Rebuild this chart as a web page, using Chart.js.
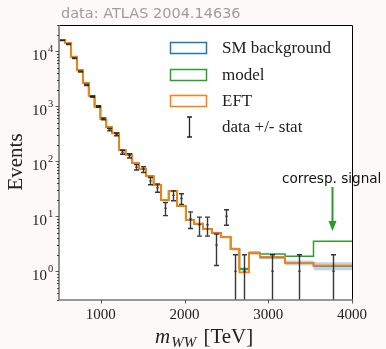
<!DOCTYPE html>
<html>
<head>
<meta charset="utf-8">
<script src="https://cdn.jsdelivr.net/npm/chart.js@4.4.1/dist/chart.umd.min.js"></script>
<style>
  html, body { margin: 0; padding: 0; background: #fdf9f8; }
  #wrap { width: 386px; height: 349px; }
</style>
</head>
<body>
<div id="wrap"><canvas id="chart" width="386" height="349"></canvas></div>
<script>
// histogram bins (m_WW) and contents
const binEdges = [500, 575, 645, 715, 785, 855, 925, 995, 1065, 1135, 1215, 1295, 1375, 1455, 1540,
  1630, 1720, 1810, 1910, 2015, 2115, 2220, 2325, 2435, 2550, 2655, 2770, 2900, 3200, 3540, 4000];
const smValues = [15950, 14250, 7960, 4500, 2640, 1535, 990, 594, 414, 322, 159, 132, 93.5, 72, 53.8,
  37, 19.8, 28.8, 15.4, 8.6, 7.3, 5.84, 4.95, 4.19, 2.54, 1.1, 2.15, 1.78, 1.42, 1.25];
const modelValues = [15950, 14250, 7960, 4500, 2640, 1535, 990, 594, 414, 322, 159, 132, 93.5, 72, 53.8,
  37, 19.8, 28.8, 15.4, 8.6, 7.3, 5.84, 4.95, 4.19, 2.54, 1.1, 2.2, 2.06, 1.87, 3.5];
const eftValues = [15950, 14250, 7960, 4500, 2640, 1535, 990, 594, 414, 322, 159, 132, 93.5, 72, 53.8,
  37, 19.8, 28.8, 15.4, 8.6, 7.3, 5.84, 4.95, 4.19, 2.54, 0.95, 2.15, 1.82, 1.42, 1.27];
const smRelErr = [0.03, 0.03, 0.03, 0.03, 0.03, 0.03, 0.03, 0.03, 0.03, 0.03, 0.03, 0.03, 0.03, 0.03, 0.03,
  0.03, 0.03, 0.03, 0.03, 0.03, 0.04, 0.04, 0.05, 0.05, 0.06, 0.07, 0.07, 0.07, 0.1, 0.17];
const dataCounts = [15800, 13400, 7470, 4260, 2430, 1500, 990, 589, 376, 309, 146, 126, 78, 71, 44,
  33, 14, 24, 21, 9, 7, 7, 3, 10, 1, 1, 0, 1, 1, 1];
const xTicks = [1000, 2000, 3000, 4000];
const yDecades = [0, 1, 2, 3, 4];

const serif = '"Liberation Serif", "DejaVu Serif", serif';
const sans = '"DejaVu Sans", sans-serif';

function steps(vals, f) {
  const pts = [];
  vals.forEach((v, i) => {
    const y = v * (f ? f(i) : 1);
    pts.push({ x: binEdges[i], y: y }, { x: binEdges[i + 1], y: y });
  });
  return pts;
}

function line(label, pts, color, width, order) {
  return { label, data: pts, borderColor: color, borderWidth: width, pointRadius: 0,
    tension: 0, fill: false, order };
}
function band(pts, fill, order) {
  return { data: pts, borderWidth: 0, pointRadius: 0, tension: 0, fill, backgroundColor: 'rgba(0,0,0,0)', order };
}

const bandSmLo = band(steps(smValues, i => 1 - smRelErr[i]), false, 10);
const bandSmHi = band(steps(smValues, i => 1 + smRelErr[i]), '-1', 10);
bandSmHi.backgroundColor = 'rgba(31,119,180,0.3)';
const bandEftLo = band(steps(eftValues, () => 0.97), false, 9);
const bandEftHi = band(steps(eftValues, () => 1.03), '-1', 9);
bandEftHi.backgroundColor = 'rgba(255,127,14,0.35)';

// error bars, spines, ticks, labels, legend
const decor = {
  id: 'decor',
  beforeDraw(chart) {
    const { ctx, chartArea: a } = chart;
    ctx.save();
    ctx.fillStyle = '#fdf9f8';
    ctx.fillRect(0, 0, chart.width, chart.height);
    ctx.fillStyle = '#ffffff';
    ctx.fillRect(a.left, a.top, a.right - a.left, a.bottom - a.top);
    ctx.restore();
  },
  afterDatasetsDraw(chart) {
    const { ctx, chartArea: a, scales: { x, y } } = chart;
    ctx.save();
    ctx.beginPath();
    ctx.rect(a.left, a.top, a.right - a.left, a.bottom - a.top);
    ctx.clip();
    ctx.strokeStyle = 'rgba(20,20,20,0.85)';
    ctx.lineWidth = 1.4;
    dataCounts.forEach((n, i) => {
      if (n <= 0) return;
      const cx = Math.round(x.getPixelForValue((binEdges[i] + binEdges[i + 1]) / 2)) + 0.5;
      const err = Math.sqrt(n);
      const top = y.getPixelForValue(n + err);
      const lo = n - err;
      const bot = lo > 0 ? y.getPixelForValue(lo) : a.bottom + 2;
      const mid = y.getPixelForValue(n);
      ctx.beginPath();
      ctx.moveTo(cx, top); ctx.lineTo(cx, bot);
      ctx.moveTo(cx - 2.5, top); ctx.lineTo(cx + 2.5, top);
      if (lo > 0) { ctx.moveTo(cx - 2.5, bot); ctx.lineTo(cx + 2.5, bot); }
      ctx.moveTo(cx - 1.2, mid); ctx.lineTo(cx + 1.2, mid);
      ctx.stroke();
    });
    ctx.restore();
  },
  afterDraw(chart) {
    const { ctx, chartArea: a, scales: { x, y } } = chart;
    ctx.save();
    // spines
    ctx.strokeStyle = '#000';
    ctx.lineWidth = 1;
    ctx.beginPath();
    ctx.moveTo(a.left, a.top + 0.5); ctx.lineTo(a.right + 0.5, a.top + 0.5); ctx.lineTo(a.right + 0.5, a.bottom);
    ctx.stroke();
    ctx.strokeStyle = '#7a7674';
    ctx.lineWidth = 1.6;
    ctx.beginPath();
    ctx.moveTo(a.left, a.top); ctx.lineTo(a.left, a.bottom); ctx.lineTo(a.right + 1, a.bottom);
    ctx.stroke();

    // ticks
    ctx.strokeStyle = '#333';
    ctx.lineWidth = 0.8;
    ctx.beginPath();
    xTicks.forEach(v => {
      const px = Math.round(x.getPixelForValue(v)) + 0.5;
      ctx.moveTo(px, a.bottom); ctx.lineTo(px, a.bottom + 3.5);
    });
    yDecades.forEach(d => {
      for (let k = 1; k <= 9; k++) {
        const v = k * Math.pow(10, d - 1);
        if (v < 0.3 || v > 30000) continue;
        const py = Math.round(y.getPixelForValue(v)) + 0.5;
        ctx.moveTo(a.left, py); ctx.lineTo(a.left - (k === 1 ? 0 : 2), py);
      }
      const v2 = Math.pow(10, d);
      for (let k = 1; k <= 9; k++) {
        const v = k * v2;
        if (v > 30000) continue;
        const py = Math.round(y.getPixelForValue(v)) + 0.5;
        ctx.moveTo(a.left, py); ctx.lineTo(a.left - (k === 1 ? 3.5 : 2), py);
      }
    });
    ctx.stroke();

    // y tick labels 10^n
    ctx.fillStyle = '#222';
    yDecades.forEach(d => {
      const py = y.getPixelForValue(Math.pow(10, d));
      ctx.font = '15px ' + serif;
      ctx.textAlign = 'right';
      ctx.textBaseline = 'alphabetic';
      ctx.fillText('10', 47, py + 8.5);
      ctx.font = '10.5px ' + serif;
      ctx.textAlign = 'left';
      ctx.fillText(String(d), 48, py + 0.5);
    });

    // axis titles
    ctx.save();
    ctx.translate(22, 162);
    ctx.rotate(-Math.PI / 2);
    ctx.font = '21px ' + serif;
    ctx.textAlign = 'center';
    ctx.textBaseline = 'alphabetic';
    ctx.fillStyle = '#222';
    ctx.fillText('Events', 0, 0);
    ctx.restore();

    ctx.textAlign = 'left';
    ctx.textBaseline = 'alphabetic';
    ctx.fillStyle = '#222';
    ctx.font = 'italic 21px ' + serif;
    ctx.fillText('m', 155, 343);
    let w = ctx.measureText('m').width;
    ctx.font = 'italic 15px ' + serif;
    ctx.fillText('WW', 155 + w + 1, 347);
    w += ctx.measureText('WW').width + 1;
    ctx.font = '21px ' + serif;
    ctx.fillText(' [TeV]', 155 + w + 2, 343);

    // title
    ctx.font = '14.5px ' + sans;
    ctx.fillStyle = '#a09c97';
    ctx.fillText('data: ATLAS 2004.14636', 61, 18);

    // legend
    const rows = [['SM background', '#1f77b4', 48], ['model', '#2ca02c', 75], ['EFT', '#ff7f0e', 101]];
    ctx.lineWidth = 1.5;
    ctx.font = '17px ' + serif;
    ctx.textBaseline = 'middle';
    rows.forEach(([t, c, yy]) => {
      ctx.fillStyle = '#fff';
      ctx.fillRect(170, yy - 6, 37, 12);
      ctx.strokeStyle = c;
      ctx.strokeRect(170.5, yy - 5.5, 36, 11);
      ctx.fillStyle = '#222';
      ctx.fillText(t, 222, yy + 1);
    });
    ctx.strokeStyle = '#222';
    ctx.lineWidth = 1.3;
    ctx.beginPath();
    ctx.moveTo(189.5, 117); ctx.lineTo(189.5, 137);
    ctx.moveTo(187, 117); ctx.lineTo(192, 117);
    ctx.moveTo(187, 137); ctx.lineTo(192, 137);
    ctx.stroke();
    ctx.fillStyle = '#222';
    ctx.fillText('data +/- stat', 222, 128);

    // signal annotation
    ctx.font = '13.6px ' + sans;
    ctx.fillStyle = '#111';
    ctx.textBaseline = 'alphabetic';
    ctx.fillText('corresp. signal', 282, 183);
    ctx.strokeStyle = '#2a9a2a';
    ctx.fillStyle = '#2a9a2a';
    ctx.lineWidth = 2;
    ctx.beginPath();
    ctx.moveTo(332.5, 187); ctx.lineTo(332.5, 223);
    ctx.stroke();
    ctx.beginPath();
    ctx.moveTo(328.5, 221); ctx.lineTo(336.5, 221); ctx.lineTo(332.5, 231); ctx.closePath();
    ctx.fill();
    ctx.restore();
  }
};

new Chart(document.getElementById('chart'), {
  type: 'line',
  data: {
    datasets: [
      bandSmLo, bandSmHi, bandEftLo, bandEftHi,
      line('SM background', steps(smValues), '#1f77b4', 1.5, 3),
      line('model', steps(modelValues), '#2ca02c', 1.5, 2),
      line('EFT', steps(eftValues), '#ff7f0e', 1.8, 1)
    ]
  },
  options: {
    responsive: false,
    devicePixelRatio: 1,
    animation: false,
    layout: { padding: { left: 0, top: 25, right: 34, bottom: 0 } },
    plugins: { legend: { display: false }, tooltip: { enabled: false } },
    scales: {
      x: {
        type: 'linear', min: 500, max: 4000,
        afterFit: s => { s.height = 49; },
        afterBuildTicks: s => { s.ticks = xTicks.map(v => ({ value: v })); },
        grid: { display: false, drawTicks: false },
        border: { display: false },
        ticks: { padding: 6, color: '#222', font: { family: serif, size: 15 }, maxRotation: 0,
          callback: v => String(v) }
      },
      y: {
        type: 'logarithmic', min: 0.3, max: 30000,
        afterFit: s => { s.width = 59; },
        grid: { display: false, drawTicks: false },
        border: { display: false },
        ticks: { display: false }
      }
    }
  },
  plugins: [decor]
});
</script>
</body>
</html>
